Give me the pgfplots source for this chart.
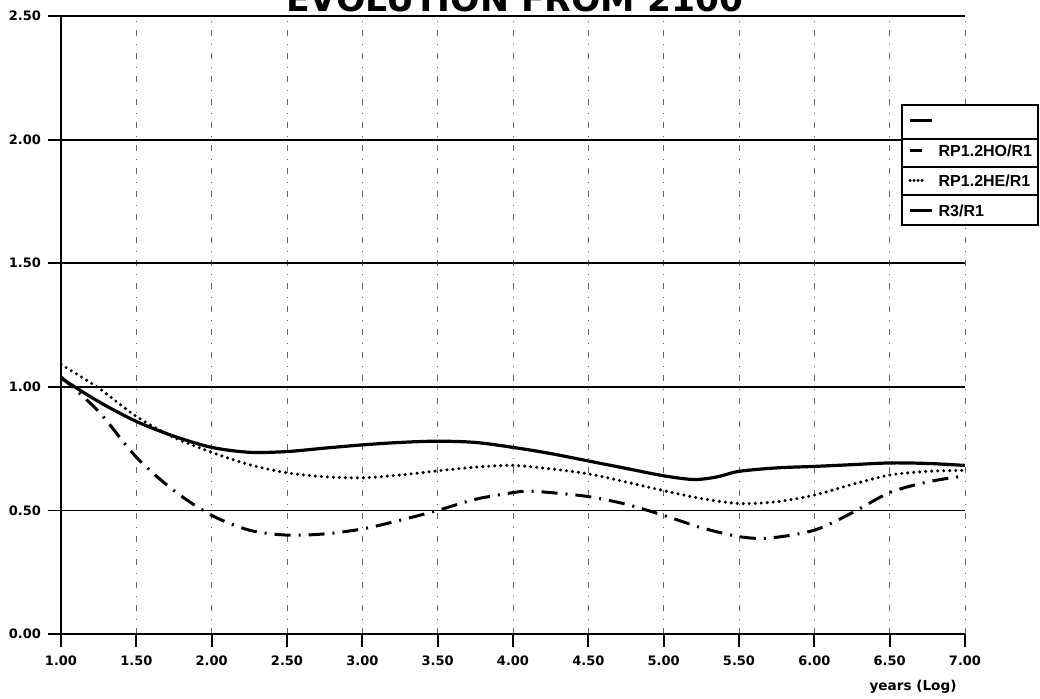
\documentclass[border=0pt]{standalone}
\usepackage{fontspec}
\setmainfont{DejaVu Sans}
\newfontfamily\legfont{Liberation Sans}
\usepackage{pgfplots}
\pgfplotsset{compat=1.18}
\pgfplotsset{
  leglong/.style={legend image code/.code={\draw[##1] (0pt,0pt) -- (11pt,0pt);}},
  legshort/.style={legend image code/.code={\draw[##1] (0pt,0pt) -- (6pt,0pt);}},
  legdots/.style={legend image code/.code={\draw[##1, dash pattern=on 0pt off 2pt] (0pt,0pt) -- (6pt,0pt);}},
}
\begin{document}
\begin{tikzpicture}
\begin{axis}[
  at={(0,0)}, anchor=south west,
  scale only axis, width=452pt, height=309pt,
  xmin=1, xmax=7, ymin=0, ymax=2.5,
  xtick={1,1.5,2,2.5,3,3.5,4,4.5,5,5.5,6,6.5,7},
  ytick={0,0.5,1,1.5,2,2.5},
  axis x line*=bottom, axis y line*=left,
  axis line style={line width=1pt, -},
  tick align=outside, major tick length=6.5pt,
  tick style={line width=0.9pt, black},
  xmajorgrids, ymajorgrids,
  x grid style={line width=0.35pt, black!60, dash pattern=on 3pt off 4pt on 0.5pt off 4pt},
  y grid style={line width=0.9pt, black},
  /pgf/number format/.cd, fixed, fixed zerofill, precision=2, assume math mode=true, /pgfplots/.cd,
  ticklabel style={font=\bfseries\fontsize{6.5}{7}\selectfont},
  xticklabel style={yshift=-1pt},
  every axis title shift=0pt,
  title={EVOLUTION FROM 2100},
  title style={at={(axis description cs:0.5022,1.0065)}, anchor=base, inner sep=0pt, font=\bfseries\fontsize{17.3}{20}\selectfont},
  xlabel={years (Log)},
  xlabel style={at={(axis description cs:0.9425,0)}, anchor=base, yshift=-28pt, inner sep=0pt, font=\bfseries\fontsize{6.8}{8}\selectfont},
  legend style={at={(axis description cs:0.9303,0.856)}, anchor=north west, draw=none, fill=white,
    inner xsep=3pt, inner ysep=0pt, row sep=0pt, column sep=2.5pt,
    font=\legfont\bfseries\fontsize{8}{9}\selectfont,
    nodes={inner sep=0pt, text height=10.35pt, text depth=4.65pt}},
  legend cell align=left,
]
\addlegendimage{black, line width=1.4pt, leglong}
\addlegendentry{}
\addplot[black, line width=1.5pt, dash pattern=on 8pt off 4pt on 1pt off 4pt, smooth, legshort] coordinates {
(1.0,1.04) (1.25,0.90) (1.5,0.715) (1.75,0.58) (2.0,0.48) (2.25,0.42) (2.5,0.40) (2.75,0.405)
(3.0,0.425) (3.25,0.46) (3.5,0.50) (3.75,0.545) (4.0,0.572) (4.1,0.578) (4.25,0.572) (4.5,0.556)
(4.75,0.525) (5.0,0.48) (5.25,0.43) (5.5,0.394) (5.7,0.388) (6.0,0.42) (6.25,0.49) (6.5,0.572)
(6.75,0.615) (7.0,0.64)};
\addlegendentry{RP1.2HO/R1}
\addplot[black, line width=1.7pt, line cap=round, dash pattern=on 0pt off 3pt, smooth, legdots] coordinates {
(1.0,1.09) (1.25,0.995) (1.5,0.88) (1.75,0.795) (2.0,0.735) (2.25,0.685) (2.5,0.652) (2.75,0.636)
(3.0,0.632) (3.25,0.643) (3.5,0.66) (3.75,0.675) (4.0,0.682) (4.25,0.668) (4.5,0.648) (4.75,0.615)
(5.0,0.58) (5.25,0.548) (5.5,0.528) (5.75,0.535) (6.0,0.562) (6.25,0.605) (6.5,0.643) (6.75,0.658)
(7.0,0.662)};
\addlegendentry{RP1.2HE/R1}
\addplot[black, line width=1.6pt, smooth, leglong] coordinates {
(1.0,1.035) (1.25,0.94) (1.5,0.86) (1.75,0.80) (2.0,0.755) (2.25,0.735) (2.5,0.738) (2.75,0.752)
(3.0,0.765) (3.25,0.775) (3.5,0.78) (3.75,0.775) (4.0,0.755) (4.25,0.73) (4.5,0.70) (4.75,0.67)
(5.0,0.64) (5.2,0.625) (5.35,0.635) (5.5,0.658) (5.75,0.672) (6.0,0.678) (6.25,0.685) (6.5,0.692)
(6.75,0.69) (7.0,0.682)};
\addlegendentry{R3/R1}
\end{axis}
% legend frame and row separators
\draw[line width=0.8pt] (420.5pt,204.5pt) rectangle (488.5pt,264.5pt);
\foreach \yy in {247.5,233.5,219.5} \draw[line width=0.8pt] (420.5pt,\yy pt) -- (488.5pt,\yy pt);
\pgfresetboundingbox
\useasboundingbox (-30.5pt,-32pt) rectangle (489.5pt,317pt);
\end{tikzpicture}
\end{document}
